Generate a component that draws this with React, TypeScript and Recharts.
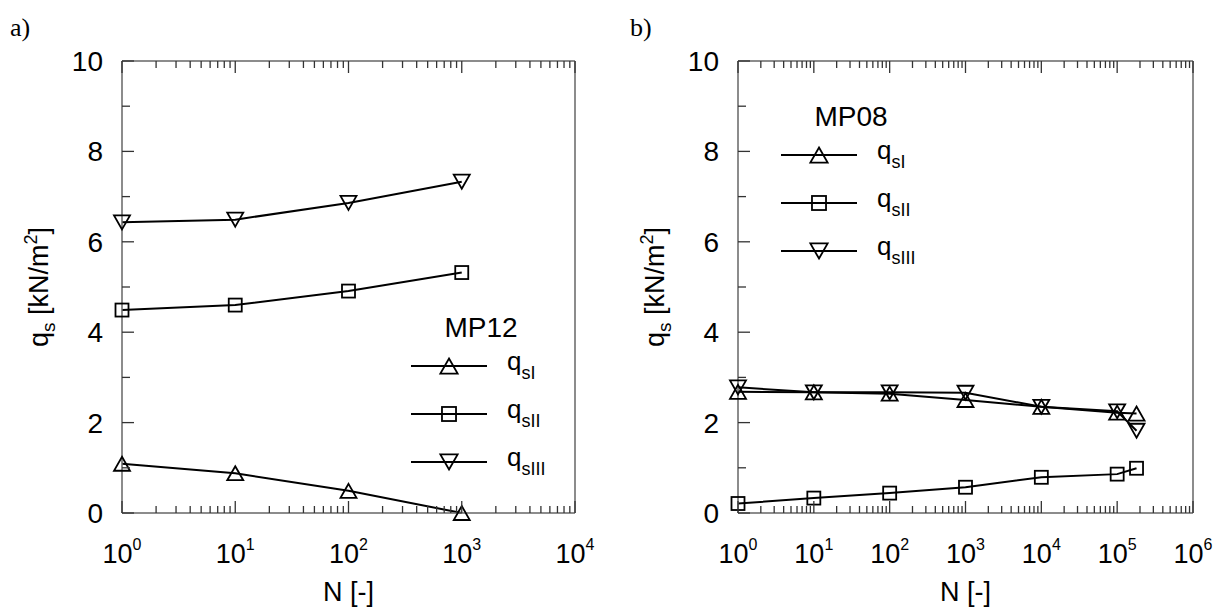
import React from 'react';
import { LineChart, Line, XAxis, YAxis } from 'recharts';

// panel a) MP12
const nA = [1, 10, 100, 1000];
const qsIA = [1.09, 0.88, 0.49, 0.0];
const qsIIA = [4.49, 4.6, 4.91, 5.32];
const qsIIIA = [6.43, 6.49, 6.86, 7.33];

// panel b) MP08
const nB = [1, 10, 100, 1000, 10000, 100000, 180000];
const qsIB = [2.68, 2.67, 2.64, 2.5, 2.35, 2.22, 2.2];
const qsIIB = [0.21, 0.33, 0.44, 0.57, 0.79, 0.86, 0.99];
const qsIIIB = [2.78, 2.67, 2.67, 2.66, 2.35, 2.25, 1.82];

const yTicks = [0, 1, 2, 3, 4, 5, 6, 7, 8, 9, 10];
const decadesA = [0, 1, 2, 3, 4];
const decadesB = [0, 1, 2, 3, 4, 5, 6];

const FONT = '"Liberation Sans", Arial, sans-serif';
const AXIS = '#666';
const TICK = '#333';

// major + minor positions for a log axis
const logTicks = (decades: number[]) => {
  const out: number[] = [];
  decades.forEach((d, i) => {
    if (i < decades.length - 1) {
      for (let m = 1; m <= 9; m++) out.push(m * Math.pow(10, d));
    } else {
      out.push(Math.pow(10, d));
    }
  });
  return out;
};

const isMajor = (v: number) => {
  const e = Math.log10(v);
  return Math.abs(e - Math.round(e)) < 1e-9;
};

type Shape = 'up' | 'down' | 'square';

const Marker = ({ cx, cy, shape, s = 1 }: { cx: number; cy: number; shape: Shape; s?: number }) => {
  if (shape === 'square') {
    const h = 6.5 * s;
    return <rect x={cx - h} y={cy - h} width={2 * h} height={2 * h} fill="none" stroke="#000" strokeWidth={1.8} />;
  }
  const w = 8 * s;
  const h = 7 * s;
  const pts =
    shape === 'up'
      ? `${cx},${cy - h} ${cx + w},${cy + h} ${cx - w},${cy + h}`
      : `${cx},${cy + h} ${cx + w},${cy - h} ${cx - w},${cy - h}`;
  return <polygon points={pts} fill="none" stroke="#000" strokeWidth={1.8} strokeLinejoin="miter" />;
};

const XTickBottom = (props: any) => {
  const { x, y, payload } = props;
  const v = payload.value as number;
  const major = isMajor(v);
  return (
    <g>
      <line x1={x} x2={x} y1={y} y2={y - (major ? 12 : 7)} stroke={TICK} strokeWidth={1.3} />
      {major && (
        <text x={x} y={y + 50} textAnchor="middle" fontSize={27} fill="#000" fontFamily={FONT}>
          10
          <tspan dy={-13} fontSize={16}>
            {Math.round(Math.log10(v))}
          </tspan>
        </text>
      )}
    </g>
  );
};

const XTickTop = (props: any) => {
  const { x, y, payload } = props;
  const major = isMajor(payload.value);
  return <line x1={x} x2={x} y1={y} y2={y + (major ? 12 : 7)} stroke={TICK} strokeWidth={1.3} />;
};

const YTickLeft = (props: any) => {
  const { x, y, payload } = props;
  const v = payload.value as number;
  const even = v % 2 === 0;
  return (
    <g>
      <line x1={x} x2={x + (even ? 12 : 8)} y1={y} y2={y} stroke={TICK} strokeWidth={1.3} />
      {even && (
        <text x={x - 19} y={y} dy="0.36em" textAnchor="end" fontSize={28} fill="#000" fontFamily={FONT}>
          {v}
        </text>
      )}
    </g>
  );
};

const YTickRight = (props: any) => {
  const { x, y, payload } = props;
  const even = (payload.value as number) % 2 === 0;
  return <line x1={x} x2={x - (even ? 12 : 8)} y1={y} y2={y} stroke={TICK} strokeWidth={1.3} />;
};

const YTitle = (props: any) => {
  const vb = props.viewBox;
  const cx = vb.x - 14;
  const cy = vb.y + vb.height / 2;
  return (
    <text
      transform={`translate(${cx},${cy}) rotate(-90)`}
      textAnchor="middle"
      fontSize={27}
      fill="#000"
      fontFamily={FONT}
    >
      q<tspan dy={7} fontSize={19}>s</tspan>
      <tspan dy={-7}> [kN/m</tspan>
      <tspan dy={-11} fontSize={18}>2</tspan>
      <tspan dy={11}>]</tspan>
    </text>
  );
};

const XTitle = (props: any) => {
  const vb = props.viewBox;
  return (
    <text x={vb.x + vb.width / 2} y={vb.y + 88} textAnchor="middle" fontSize={27} fill="#000" fontFamily={FONT}>
      N [-]
    </text>
  );
};

const seriesNames = ['sI', 'sII', 'sIII'];
const seriesShapes: Shape[] = ['up', 'square', 'down'];

const LegendBlock = ({ x0, y0, title }: { x0: number; y0: number; title: string }) => (
  <g fontFamily={FONT}>
    <text x={x0 + 70} y={y0 - 29} textAnchor="middle" fontSize={28} fill="#000">
      {title}
    </text>
    {seriesNames.map((nm, i) => {
      const y = y0 + i * 48;
      return (
        <g key={nm}>
          <line x1={x0} x2={x0 + 76} y1={y} y2={y} stroke="#000" strokeWidth={2} />
          <Marker cx={x0 + 38} cy={y} shape={seriesShapes[i]} s={1.08} />
          <text x={x0 + 96} y={y + 4} fontSize={26} fill="#000">
            q<tspan dy={9} fontSize={18}>{nm}</tspan>
          </text>
        </g>
      );
    })}
  </g>
);

const dotOf = (shape: Shape) => (p: any) =>
  <Marker key={`${shape}-${p.index}`} cx={p.cx} cy={p.cy} shape={shape} />;

interface PanelProps {
  n: number[];
  qI: number[];
  qII: number[];
  qIII: number[];
  decades: number[];
  marginRight: number;
}

function Panel({ n, qI, qII, qIII, decades, marginRight }: PanelProps) {
  const data = n.map((v, i) => ({ n: v, qsI: qI[i], qsII: qII[i], qsIII: qIII[i] }));
  const ticks = logTicks(decades);
  const domain = [Math.pow(10, decades[0]), Math.pow(10, decades[decades.length - 1])];
  return (
    <LineChart width={600} height={608} data={data} margin={{ top: 60, right: marginRight, bottom: 35, left: 62 }}>
      <XAxis
        dataKey="n"
        type="number"
        scale="log"
        domain={domain}
        ticks={ticks}
        interval={0}
        tickSize={0}
        tickMargin={0}
        tick={<XTickBottom />}
        axisLine={{ stroke: AXIS, strokeWidth: 1.5 }}
        height={60}
        label={<XTitle />}
      />
      <XAxis
        xAxisId="t"
        orientation="top"
        dataKey="n"
        type="number"
        scale="log"
        domain={domain}
        ticks={ticks}
        interval={0}
        tickSize={0}
        tickMargin={0}
        tick={<XTickTop />}
        axisLine={{ stroke: AXIS, strokeWidth: 1.5 }}
        height={1}
      />
      <YAxis
        type="number"
        domain={[0, 10]}
        ticks={yTicks}
        interval={0}
        tickSize={0}
        tickMargin={0}
        tick={<YTickLeft />}
        axisLine={{ stroke: AXIS, strokeWidth: 1.5 }}
        width={60}
        label={<YTitle />}
      />
      <YAxis
        yAxisId="r"
        orientation="right"
        type="number"
        domain={[0, 10]}
        ticks={yTicks}
        interval={0}
        tickSize={0}
        tickMargin={0}
        tick={<YTickRight />}
        axisLine={{ stroke: AXIS, strokeWidth: 1.5 }}
        width={1}
      />
      <Line dataKey="qsI" stroke="#000" strokeWidth={2} dot={dotOf('up')} activeDot={false} isAnimationActive={false} />
      <Line dataKey="qsII" stroke="#000" strokeWidth={2} dot={dotOf('square')} activeDot={false} isAnimationActive={false} />
      <Line dataKey="qsIII" stroke="#000" strokeWidth={2} dot={dotOf('down')} activeDot={false} isAnimationActive={false} />
    </LineChart>
  );
}

export default function App() {
  return (
    <div style={{ position: 'absolute', left: 0, top: 0, width: 1219, height: 608, background: '#fff', overflow: 'hidden' }}>
      <div style={{ position: 'absolute', left: 0, top: 0 }}>
        <Panel n={nA} qI={qsIA} qII={qsIIA} qIII={qsIIIA} decades={decadesA} marginRight={24} />
      </div>
      <div style={{ position: 'absolute', left: 616, top: 0 }}>
        <Panel n={nB} qI={qsIB} qII={qsIIB} qIII={qsIIIB} decades={decadesB} marginRight={22} />
      </div>
      <svg width={1219} height={608} style={{ position: 'absolute', left: 0, top: 0, pointerEvents: 'none' }}>
        <text x={10} y={36} fontSize={26} fontFamily='"Liberation Serif", "Times New Roman", serif' fill="#000">a)</text>
        <text x={630} y={36} fontSize={26} fontFamily='"Liberation Serif", "Times New Roman", serif' fill="#000">b)</text>
        <LegendBlock x0={411} y0={366} title="MP12" />
        <LegendBlock x0={781} y0={155} title="MP08" />
      </svg>
    </div>
  );
}
